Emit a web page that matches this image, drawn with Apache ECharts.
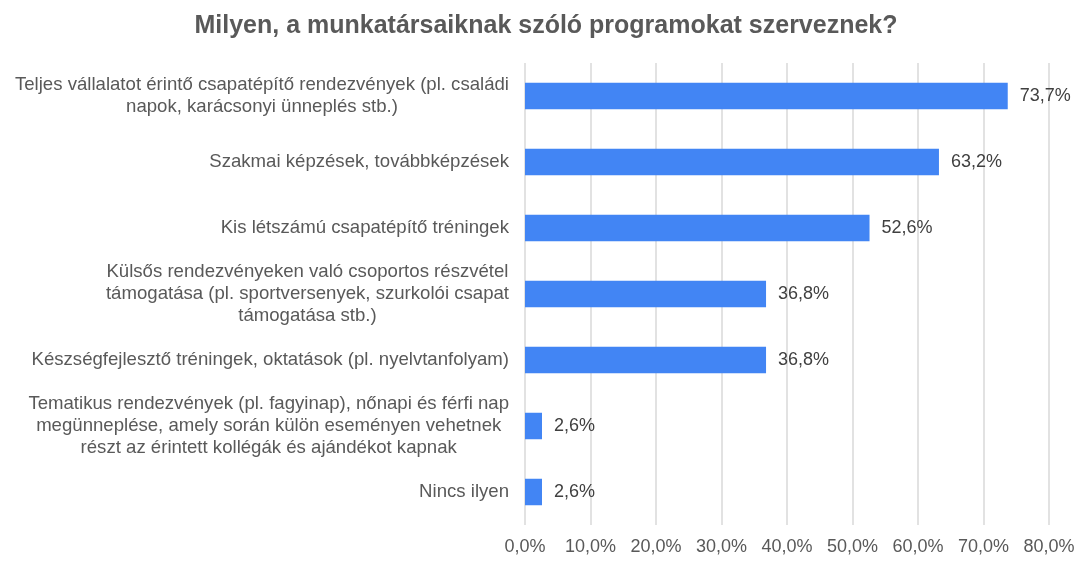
<!DOCTYPE html>
<html>
<head>
<meta charset="utf-8">
<script src="https://cdn.jsdelivr.net/npm/echarts@6/dist/echarts.min.js"></script>
<style>
  html, body { margin: 0; padding: 0; background: #fff; }
  #chart { width: 1092px; height: 566px; }
</style>
</head>
<body>
<div id="chart"></div>
<script>
let chartTitle = 'Milyen, a munkatársaiknak szóló programokat szerveznek?';

// kategóriák, soronként tördelve
let categories = [
    ['Teljes vállalatot érintő csapatépítő rendezvények (pl. családi', 'napok, karácsonyi ünneplés stb.)'],
    ['Szakmai képzések, továbbképzések'],
    ['Kis létszámú csapatépítő tréningek'],
    ['Külsős rendezvényeken való csoportos részvétel', 'támogatása (pl. sportversenyek, szurkolói csapat', 'támogatása stb.)'],
    ['Készségfejlesztő tréningek, oktatások (pl. nyelvtanfolyam)'],
    ['Tematikus rendezvények (pl. fagyinap), nőnapi és férfi nap', 'megünneplése, amely során külön eseményen vehetnek', 'részt az érintett kollégák és ajándékot kapnak'],
    ['Nincs ilyen']
];
let values = [73.7, 63.2, 52.6, 36.8, 36.8, 2.6, 2.6];
let axisMin = 0, axisMax = 80, axisStep = 10;

const FONT = '"Liberation Sans", Arial, sans-serif';

function huPercent(v) {
    return v.toFixed(1).replace('.', ',') + '%';
}

let chart = echarts.init(document.getElementById('chart'));
chart.setOption({
    backgroundColor: '#ffffff',
    animation: false,
    title: {
        text: chartTitle,
        left: 'center',
        top: 9,
        textStyle: { fontFamily: FONT, fontSize: 25, fontWeight: 'bold', color: '#595959' }
    },
    grid: { left: 525, right: 43, top: 63, bottom: 41, containLabel: false },
    xAxis: {
        type: 'value',
        min: axisMin,
        max: axisMax,
        interval: axisStep,
        axisLine: { show: false },
        axisTick: { show: false },
        splitLine: { lineStyle: { color: '#d9d9d9', width: 1.5 } },
        axisLabel: {
            margin: 13,
            fontFamily: FONT,
            fontSize: 18,
            color: '#595959',
            formatter: huPercent
        }
    },
    yAxis: {
        type: 'category',
        inverse: true,
        data: categories.map(lines => lines.join('\n')),
        axisLine: { show: false },
        axisTick: { show: false },
        axisLabel: {
            margin: 16,
            align: 'right',
            formatter: function (v) {
                return v.split('\n').map(l => '{c|' + l + '}').join('\n');
            },
            rich: {
                c: { align: 'center', fontFamily: FONT, fontSize: 18.6, lineHeight: 22, color: '#595959' }
            }
        }
    },
    series: [{
        type: 'bar',
        data: values,
        barWidth: 26.5,
        itemStyle: { color: '#4285f4' },
        label: {
            show: true,
            position: 'right',
            distance: 12,
            fontFamily: FONT,
            fontSize: 18,
            color: '#404040',
            formatter: p => huPercent(p.value)
        }
    }]
});
</script>
</body>
</html>
